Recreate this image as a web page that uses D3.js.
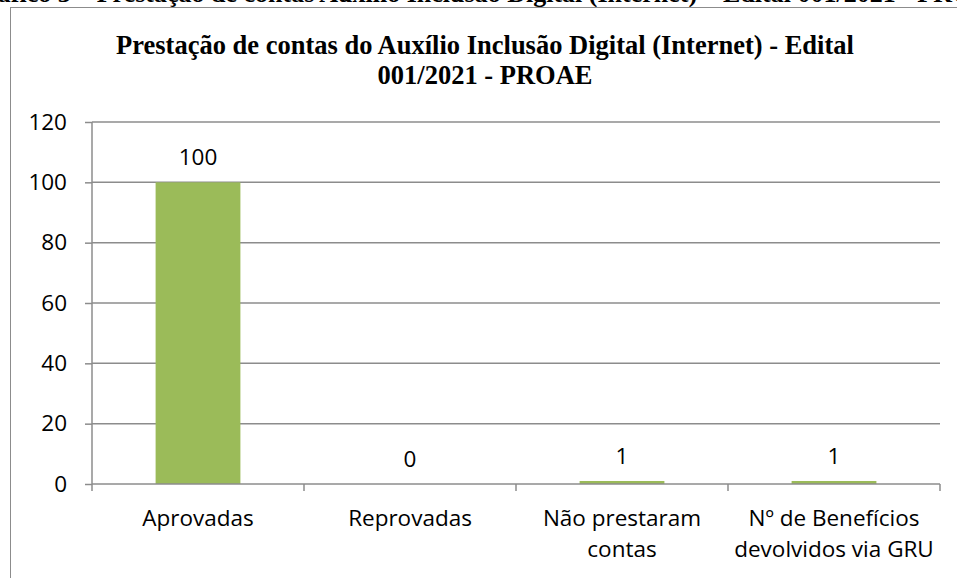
<!DOCTYPE html>
<html>
<head>
<meta charset="utf-8">
<style>
  body { margin: 0; background: #fff; overflow: hidden; }
</style>
</head>
<body>
<div id="container"></div>
<script src="https://d3js.org/d3.v7.min.js"></script>
<script>
var categories = ["Aprovadas", "Reprovadas", "Não prestaram contas", "Nº de Benefícios devolvidos via GRU"];
var categoryLines = [["Aprovadas"], ["Reprovadas"], ["Não prestaram", "contas"], ["Nº de Benefícios", "devolvidos via GRU"]];
var values = [100, 0, 1, 1];
var yTicks = [0, 20, 40, 60, 80, 100, 120];
var titleLines = ["Prestação de contas do Auxílio Inclusão Digital (Internet) - Edital", "001/2021 - PROAE"];
var caption = "Gráfico 3 – Prestação de contas Auxílio Inclusão Digital (Internet) – Edital 001/2021 - PROAE";

var W = 957, H = 578;
var plot = {left: 92, right: 940, top: 122, bottom: 484};
var grey = "#8c8c8c";
var labelFont = "'Open Sans', sans-serif";
var labelSize = "22.5px";

var svg = d3.select("#container").append("svg")
  .attr("width", W)
  .attr("height", H);

// caption of the page, cut by the top edge
svg.append("text")
  .attr("x", -34)
  .attr("y", 2)
  .style("font-family", "'Liberation Serif', serif")
  .style("font-weight", "bold")
  .style("font-size", "26px")
  .text(caption);

// chart frame (runs off the page at right and bottom)
svg.append("rect")
  .attr("x", 10.5).attr("y", 7.5)
  .attr("width", 1000).attr("height", 700)
  .attr("fill", "white")
  .attr("stroke", grey)
  .attr("stroke-width", 1);

// title
svg.append("g").selectAll("text").data(titleLines).enter().append("text")
  .attr("x", 485)
  .attr("y", function (d, i) { return 54 + i * 30; })
  .attr("text-anchor", "middle")
  .style("font-family", "'Liberation Serif', serif")
  .style("font-weight", "bold")
  .style("font-size", "26.5px")
  .text(function (d) { return d; });

var x = d3.scaleBand()
  .domain(categories)
  .range([plot.left, plot.right])
  .padding(0);

var y = d3.scaleLinear()
  .domain([0, 120])
  .range([plot.bottom, plot.top]);

// gridlines + y axis
var yAxis = svg.append("g")
  .attr("transform", "translate(" + plot.left + ",0)")
  .call(d3.axisLeft(y).tickValues(yTicks).tickSize(7).tickPadding(18)
    .tickFormat(d3.format("d")));
yAxis.select(".domain").remove();
yAxis.selectAll(".tick line").attr("stroke", grey).attr("stroke-width", 1.5);
yAxis.selectAll(".tick text")
  .style("font-family", labelFont)
  .style("font-size", labelSize)
  .attr("fill", "#000");

svg.append("g").selectAll("line").data(yTicks.filter(function (d) { return d > 0; })).enter().append("line")
  .attr("x1", plot.left).attr("x2", plot.right)
  .attr("y1", function (d) { return y(d); })
  .attr("y2", function (d) { return y(d); })
  .attr("stroke", grey)
  .attr("stroke-width", 1.5);

svg.append("line")
  .attr("x1", plot.left).attr("x2", plot.left)
  .attr("y1", plot.top).attr("y2", plot.bottom + 7)
  .attr("stroke", grey)
  .attr("stroke-width", 1.5);

// bars
var barW = x.bandwidth() * 0.4;
svg.append("g").selectAll("rect").data(values).enter().append("rect")
  .attr("x", function (d, i) { return x(categories[i]) + (x.bandwidth() - barW) / 2; })
  .attr("y", function (d) { return y(d); })
  .attr("width", barW)
  .attr("height", function (d) { return plot.bottom - y(d); })
  .attr("fill", "#9bbb59");

// x axis
svg.append("line")
  .attr("x1", plot.left).attr("x2", plot.right)
  .attr("y1", plot.bottom).attr("y2", plot.bottom)
  .attr("stroke", grey)
  .attr("stroke-width", 1.5);

svg.append("g").selectAll("line").data(categories).enter().append("line")
  .attr("x1", function (d) { return x(d) + x.bandwidth(); })
  .attr("x2", function (d) { return x(d) + x.bandwidth(); })
  .attr("y1", plot.bottom).attr("y2", plot.bottom + 7)
  .attr("stroke", grey)
  .attr("stroke-width", 1.5);

// data labels
svg.append("g").selectAll("text").data(values).enter().append("text")
  .attr("x", function (d, i) { return x(categories[i]) + x.bandwidth() / 2; })
  .attr("y", function (d) { return y(d) - 17; })
  .attr("text-anchor", "middle")
  .style("font-family", labelFont)
  .style("font-size", labelSize)
  .text(function (d) { return d; });

// category labels
var cat = svg.append("g").selectAll("text").data(categoryLines).enter().append("text")
  .attr("text-anchor", "middle")
  .style("font-family", labelFont)
  .style("font-size", labelSize);
cat.each(function (lines, i) {
  d3.select(this).selectAll("tspan").data(lines).enter().append("tspan")
    .attr("x", x(categories[i]) + x.bandwidth() / 2)
    .attr("y", function (d, j) { return 526 + j * 31; })
    .text(function (d) { return d; });
});
</script>
</body>
</html>
